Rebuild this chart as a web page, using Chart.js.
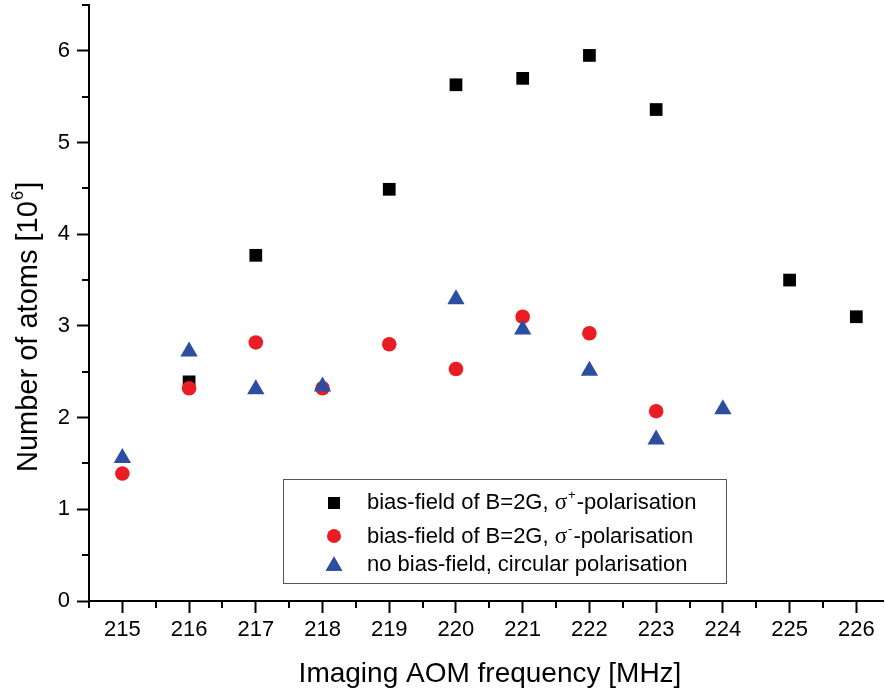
<!DOCTYPE html>
<html>
<head>
<meta charset="utf-8">
<script src="https://cdn.jsdelivr.net/npm/chart.js@4"></script>
<style>
  html, body { margin: 0; padding: 0; background: #fff; }
  #wrap { width: 885px; height: 695px; }
</style>
</head>
<body>
<div id="wrap"><canvas id="atomChart" width="885" height="695"></canvas></div>
<script>
// data (y in units of 10^6 atoms)
var freqSigmaPlus = [216, 217, 219, 220, 221, 222, 223, 225, 226];
var atomsSigmaPlus = [2.39, 3.77, 4.49, 5.63, 5.70, 5.95, 5.36, 3.50, 3.10];

var freqSigmaMinus = [215, 216, 217, 218, 219, 220, 221, 222, 223];
var atomsSigmaMinus = [1.39, 2.32, 2.82, 2.32, 2.80, 2.53, 3.10, 2.92, 2.07];

var freqNoBias = [215, 216, 217, 218, 220, 221, 222, 223, 224];
var atomsNoBias = [1.56, 2.72, 2.31, 2.34, 3.29, 2.96, 2.51, 1.76, 2.09];

var xTicks = [215, 216, 217, 218, 219, 220, 221, 222, 223, 224, 225, 226];
var yTicks = [0, 1, 2, 3, 4, 5, 6];

var SANS = '"Liberation Sans", Arial, Helvetica, sans-serif';
var SERIF = '"Liberation Serif", "Times New Roman", serif';
var RED = '#ec1c24';
var BLUE = '#2b4ea0';

function pts(xs, ys) {
  return xs.map(function (x, i) { return { x: x, y: ys[i] }; });
}

// minor ticks, axis titles and the boxed legend
var extras = {
  id: 'extras',
  afterDraw: function (chart) {
    var ctx = chart.ctx;
    var area = chart.chartArea;
    var xs = chart.scales.x, ys = chart.scales.y;
    ctx.save();

    // minor ticks at half steps
    ctx.strokeStyle = '#000';
    ctx.lineWidth = 2;
    ctx.beginPath();
    for (var v = xs.min; v <= xs.max + 1e-9; v += 0.5) {
      if (Math.abs(v - Math.round(v)) < 1e-6) continue;
      var px = Math.round(xs.getPixelForValue(v));
      ctx.moveTo(px, area.bottom);
      ctx.lineTo(px, area.bottom + 7);
    }
    for (var w = 0.5; w <= ys.max + 1e-9; w += 1) {
      var py = Math.round(ys.getPixelForValue(w));
      ctx.moveTo(area.left - 7, py);
      ctx.lineTo(area.left, py);
    }
    ctx.stroke();

    ctx.fillStyle = '#000';
    ctx.textBaseline = 'alphabetic';

    // x title
    ctx.font = '28px ' + SANS;
    ctx.textAlign = 'center';
    ctx.fillText('Imaging AOM frequency [MHz]', (area.left + area.right) / 2 + 4, 682);

    // y title with superscript
    ctx.save();
    ctx.translate(37, 472);
    ctx.rotate(-Math.PI / 2);
    ctx.textAlign = 'left';
    ctx.font = '29px ' + SANS;
    var t1 = 'Number of atoms [10';
    ctx.fillText(t1, 0, 0);
    var w1 = ctx.measureText(t1).width;
    ctx.font = '17px ' + SANS;
    ctx.fillText('6', w1 + 1, -14);
    var w6 = ctx.measureText('6').width;
    ctx.font = '29px ' + SANS;
    ctx.fillText(']', w1 + w6 + 2, 0);
    ctx.restore();

    // legend box
    ctx.strokeStyle = '#555';
    ctx.lineWidth = 1;
    ctx.strokeRect(283.5, 479.5, 443, 104);

    var rows = [
      { y: 509, my: 503, ds: 0, parts: [['bias-field of B=2G, ', 's'], ['\u03c3', 'g'], ['+', 'sup'], ['-polarisation', 's']] },
      { y: 543, my: 536, ds: 1, parts: [['bias-field of B=2G, ', 's'], ['\u03c3', 'g'], ['-', 'sup'], ['-polarisation', 's']] },
      { y: 571, my: 566, ds: 2, parts: [['no bias-field, circular polarisation', 's']] }
    ];
    ctx.textAlign = 'left';
    rows.forEach(function (row) {
      var d = chart.data.datasets[row.ds];
      ctx.fillStyle = d.backgroundColor;
      Chart.helpers.drawPoint(ctx, {
        pointStyle: d.pointStyle,
        radius: d.pointRadius - 0.5,
        rotation: 0,
        borderWidth: 0
      }, 334, row.my);
      ctx.fill();

      ctx.fillStyle = '#000';
      var x = 367;
      row.parts.forEach(function (p) {
        if (p[1] === 's') {
          ctx.font = '22px ' + SANS;
          ctx.fillText(p[0], x, row.y);
        } else if (p[1] === 'g') {
          ctx.font = '23px ' + SERIF;
          ctx.fillText(p[0], x, row.y);
        } else {
          ctx.font = '13px ' + SANS;
          ctx.fillText(p[0], x + 1, row.y - 10);
          x += 2;
        }
        x += ctx.measureText(p[0]).width;
      });
    });

    ctx.restore();
  }
};

var actx = document.getElementById('atomChart').getContext('2d');
var atomChart = new Chart(actx, {
  type: 'scatter',
  data: {
    datasets: [{
      label: 'bias-field of B=2G, \u03c3+-polarisation',
      data: pts(freqSigmaPlus, atomsSigmaPlus),
      pointStyle: 'rect',
      pointRadius: 9,
      backgroundColor: '#000',
      borderWidth: 0,
      order: 3
    }, {
      label: 'bias-field of B=2G, \u03c3--polarisation',
      data: pts(freqSigmaMinus, atomsSigmaMinus),
      pointStyle: 'circle',
      pointRadius: 7.3,
      backgroundColor: RED,
      borderWidth: 0,
      order: 2
    }, {
      label: 'no bias-field, circular polarisation',
      data: pts(freqNoBias, atomsNoBias),
      pointStyle: 'triangle',
      pointRadius: 10,
      backgroundColor: BLUE,
      borderWidth: 0,
      order: 1
    }]
  },
  options: {
    responsive: false,
    animation: false,
    layout: {
      autoPadding: false,
      padding: { left: 0, top: 5, right: 2, bottom: 0 }
    },
    plugins: {
      legend: { display: false },
      tooltip: { enabled: false }
    },
    scales: {
      x: {
        type: 'linear',
        min: 214.5,
        max: 226.4,
        afterBuildTicks: function (scale) {
          scale.ticks = xTicks.map(function (v) { return { value: v }; });
        },
        afterFit: function (scale) {
          scale.height = 94;
          scale.paddingLeft = 0;
          scale.paddingRight = 0;
        },
        grid: {
          drawOnChartArea: false,
          tickLength: 12,
          tickWidth: 2,
          tickColor: '#000'
        },
        border: { display: true, color: '#000', width: 2 },
        ticks: {
          color: '#000',
          padding: 4,
          maxRotation: 0,
          font: { family: SANS, size: 22 }
        }
      },
      y: {
        type: 'linear',
        min: 0,
        max: 6.5,
        afterBuildTicks: function (scale) {
          scale.ticks = yTicks.map(function (v) { return { value: v }; });
        },
        afterFit: function (scale) {
          scale.width = 89;
          scale.paddingTop = 0;
          scale.paddingBottom = 0;
        },
        grid: {
          drawOnChartArea: false,
          tickLength: 12,
          tickWidth: 2,
          tickColor: '#000'
        },
        border: { display: true, color: '#000', width: 2 },
        ticks: {
          color: '#000',
          padding: 7,
          font: { family: SANS, size: 22 }
        }
      }
    }
  },
  plugins: [extras]
});
</script>
</body>
</html>
